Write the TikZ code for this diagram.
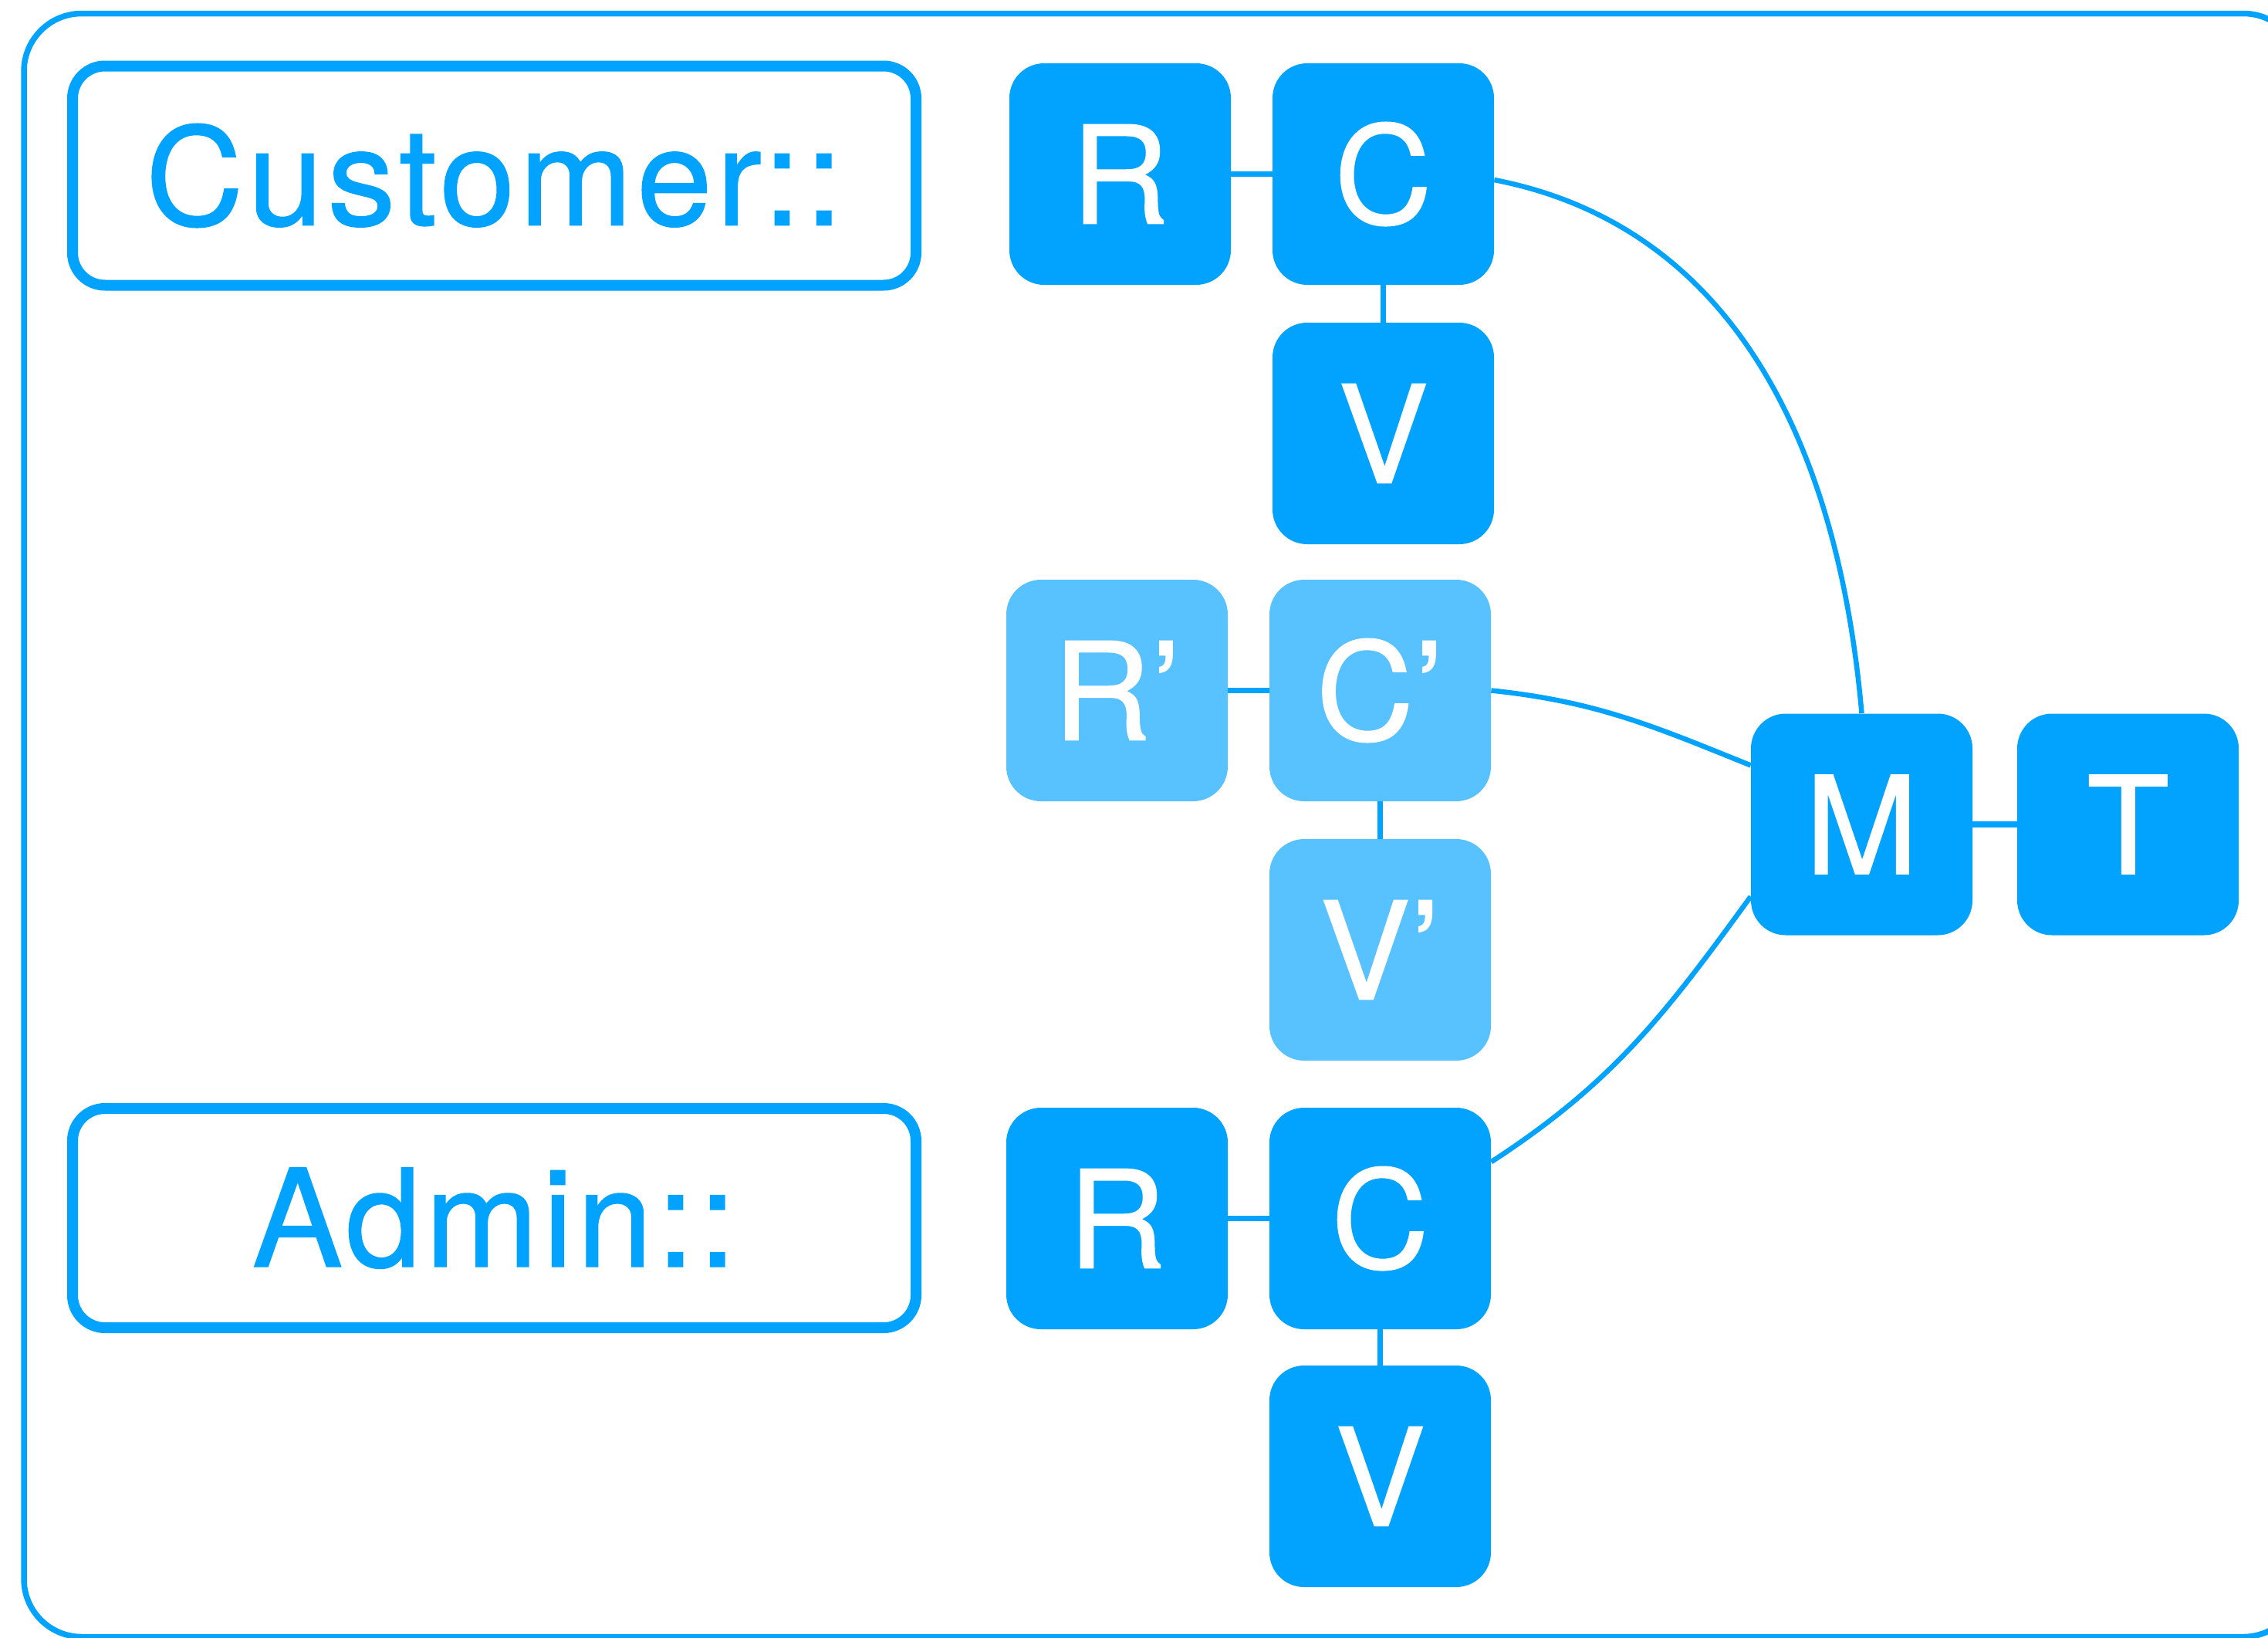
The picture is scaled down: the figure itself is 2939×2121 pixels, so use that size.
\documentclass[tikz,border=0pt]{standalone}
\usepackage{fontspec}
\newfontfamily\labelfont{TeX Gyre Heros}[LetterSpace=3.1,FakeBold=0.8]
\newfontfamily\boxfont{TeX Gyre Heros}[FakeBold=0.8]
\definecolor{mainblue}{RGB}{2,163,255}
\definecolor{lightblue}{RGB}{88,193,255}
\begin{document}
\begin{tikzpicture}[x=0.5pt,y=0.5pt,
  box/.style={fill=mainblue, rounded corners=22.5pt, minimum width=143.5pt,
    minimum height=143.5pt, inner sep=0pt, text=white,
    font=\boxfont\fontsize{88}{88}\selectfont},
  lightbox/.style={box, fill=lightblue},
  namebox/.style={draw=mainblue, line width=7pt, rounded corners=21pt,
    minimum width=546.5pt, minimum height=142pt, inner sep=0pt, text=mainblue,
    font=\labelfont\fontsize{88}{88}\selectfont},
  link/.style={draw=mainblue, line width=3.75pt},
  curvelink/.style={draw=mainblue, line width=3.25pt}]
\useasboundingbox (0,0) rectangle (2939,-2121);
\draw[mainblue, line width=3.75pt, rounded corners=37.5pt] (31,-17.5) rectangle (2982,-2120.5);

\node[namebox] (cust) at (640.5,-227.5) {Customer::};
\node[namebox] (admin) at (640.5,-1578) {Admin::};

\node[box] (r1) at (1451.5,-225.5) {R};
\node[box] (c1) at (1792.5,-225.5) {C};
\node[box] (v1) at (1792.5,-561.5) {V};
\node[lightbox] (r2) at (1447.5,-894.5) {R’};
\node[lightbox] (c2) at (1788.5,-894.5) {C’};
\node[lightbox] (v2) at (1788.5,-1230.5) {V’};
\node[box] (r3) at (1447.5,-1578.5) {R};
\node[box] (c3) at (1788.5,-1578.5) {C};
\node[box] (v3) at (1788.5,-1912.5) {V};
\node[box] (m) at (2412.5,-1068) {M};
\node[box] (t) at (2757.5,-1068) {T};

\draw[link] (r1) -- (c1);
\draw[link] (c1) -- (v1);
\draw[link] (r2) -- (c2);
\draw[link] (c2) -- (v2);
\draw[link] (r3) -- (c3);
\draw[link] (c3) -- (v3);
\draw[link] (m) -- (t);

\draw[curvelink] (c1.-3) to[out=-11,in=95] (m.north);
\draw[curvelink] (c2.east) to[out=-6,in=158] (m.152);
\draw[curvelink] (c3.27) to[out=33,in=-126] (m.213);
\end{tikzpicture}
\end{document}
